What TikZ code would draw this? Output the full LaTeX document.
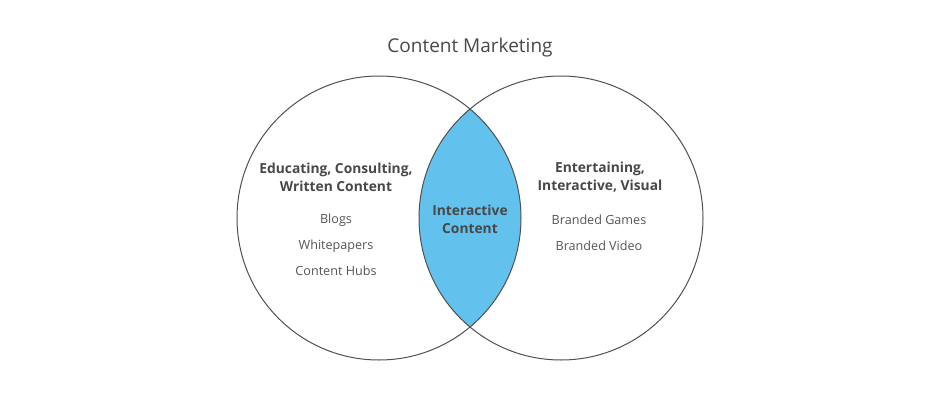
\documentclass[tikz,border=0pt]{standalone}
\usepackage{fontspec}
\setmainfont{Open Sans}
\usepackage{tikz}
\usetikzlibrary{positioning}
\usepackage{xcolor}
\definecolor{textgray}{RGB}{72,72,72}
\definecolor{itemgray}{RGB}{85,85,85}
\definecolor{linegray}{RGB}{80,80,80}
\definecolor{lensblue}{RGB}{99,193,238}

\begin{document}
\begin{tikzpicture}[x=1pt,y=1pt,
    setcircle/.style={circle,draw=linegray,line width=1pt,minimum size=284pt,inner sep=0pt},
    heading/.style={text=textgray,align=center,font=\fontsize{13.8}{18}\selectfont\bfseries},
    item/.style={text=itemgray,font=\fontsize{12.6}{14}\selectfont}]
        \useasboundingbox (0,0) rectangle (940,400);

        % Overlap of the two sets
        \begin{scope}
            \clip (379,182) circle (142);
            \fill[lensblue] (561,182) circle (142);
        \end{scope}

        % The two sets
        \node[setcircle] (leftset) at (379,182) {};
        \node[setcircle] (rightset) at (561,182) {};

        % Title
        \node[text=textgray,font=\fontsize{19}{22}\selectfont] (title) at (470,352) {Content Marketing};

        % Left set
        \node[heading] (lefthead) at (336,223) {Educating, Consulting,\\Written Content};
        \node[item] (blogs) at (336,180) {Blogs};
        \node[item] (whitepapers) at (336,154) {Whitepapers};
        \node[item] (hubs) at (336,129) {Content Hubs};

        % Middle
        \node[heading] (middle) at (470,181) {Interactive\\Content};

        % Right set
        \node[heading] (righthead) at (600,223) {Entertaining,\\Interactive, Visual};
        \node[item] (games) at (599,180) {Branded Games};
        \node[item] (video) at (599,154) {Branded Video};
    \end{tikzpicture}
\end{document}
